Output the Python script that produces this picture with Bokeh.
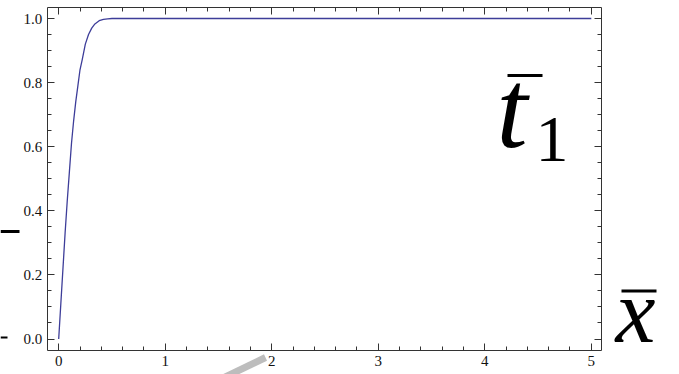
from bokeh.plotting import figure
from bokeh.models import (Range1d, FixedTicker, LinearAxis, Label, Arrow,
                          PrintfTickFormatter, ColumnDataSource)
from bokeh.embed import file_html
from bokeh.resources import INLINE

# Curve samples: scaled position x̄ and the normalised response t̄1
x_vals = [0.0, 0.02, 0.04, 0.06, 0.08, 0.10, 0.12, 0.14, 0.16, 0.18,
          0.20, 0.22, 0.25, 0.28, 0.31, 0.34, 0.38, 0.42, 0.46, 0.50,
          0.60, 1.0, 2.0, 3.0, 4.0, 5.0]
y_vals = [0.0, 0.11, 0.22, 0.33, 0.43, 0.52, 0.61, 0.68, 0.74, 0.79,
          0.84, 0.87, 0.92, 0.95, 0.97, 0.983, 0.993, 0.997, 0.999, 1.0,
          1.0, 1.0, 1.0, 1.0, 1.0, 1.0]

x_major = [0, 1, 2, 3, 4, 5]
x_minor = [i * 0.2 for i in range(0, 26)]
y_major = [0.0, 0.2, 0.4, 0.6, 0.8, 1.0]
y_minor = [i * 0.05 for i in range(0, 21)]

W, H = 679, 374
# pixel scale of the canvas: origin position and pixels per data unit
XS, X_ORIG = 106.52, 58.2
YS, Y_ORIG = 320.5, 338.5


def dx(px):
    return (px - X_ORIG) / XS


def dy(py):
    return (Y_ORIG - py) / YS


# the drawing frame spans the whole canvas; the boxed panel sits inside it
p = figure(width=W, height=H, output_backend="svg", toolbar_location=None,
           title=None, x_range=Range1d(dx(0), dx(W)),
           y_range=Range1d(dy(H), dy(0)),
           min_border_left=0, min_border_right=0, min_border_top=0,
           min_border_bottom=0, x_axis_location=None, y_axis_location=None)
p.xgrid.visible = False
p.ygrid.visible = False
p.outline_line_color = None
p.background_fill_color = "white"
p.border_fill_color = "white"

BOX_L, BOX_R = dx(46.7), dx(601.0)
BOX_T, BOX_B = dy(7.3), dy(350.0)

FRAME = "#333333"
FONT = "Liberation Serif"


def style_axis(ax, ticks, labels=True):
    ax.axis_line_color = FRAME
    ax.axis_line_width = 1
    ax.major_tick_line_color = FRAME
    ax.minor_tick_line_color = FRAME
    ax.major_tick_in = 7
    ax.major_tick_out = 0
    ax.minor_tick_in = 4
    ax.minor_tick_out = 0
    ax.major_label_text_font = FONT
    ax.major_label_text_font_size = "15px"
    ax.major_label_text_color = "#111111"
    ax.major_label_standoff = 5
    if not labels:
        ax.major_label_overrides = {t: "" for t in ticks}


xt = FixedTicker(ticks=x_major, minor_ticks=x_minor)
yt = FixedTicker(ticks=y_major, minor_ticks=y_minor)

bottom = LinearAxis(ticker=xt, fixed_location=BOX_B, bounds=(BOX_L, BOX_R))
style_axis(bottom, x_major)
p.add_layout(bottom, "below")
top = LinearAxis(ticker=xt, fixed_location=BOX_T, bounds=(BOX_L, BOX_R))
style_axis(top, x_major, labels=False)
p.add_layout(top, "above")
left = LinearAxis(ticker=yt, formatter=PrintfTickFormatter(format="%.1f"),
                  fixed_location=BOX_L, bounds=(BOX_B, BOX_T))
style_axis(left, y_major)
p.add_layout(left, "left")
right = LinearAxis(ticker=yt, fixed_location=BOX_R, bounds=(BOX_B, BOX_T))
style_axis(right, y_major, labels=False)
p.add_layout(right, "right")

src = ColumnDataSource(dict(x=x_vals, y=y_vals))
p.line("x", "y", source=src, line_color="#3d3d99", line_width=1.3)


def bar(x_a, y_a, x_b, y_b, width, color="black"):
    p.add_layout(Arrow(end=None, x_start=dx(x_a), y_start=dy(y_a),
                       x_end=dx(x_b), y_end=dy(y_b), line_width=width,
                       line_color=color, line_cap="butt"))


def label(px, py, text, size, italic=True):
    p.add_layout(Label(x=dx(px), y=dy(py), text=text, text_font=FONT,
                       text_font_style="italic" if italic else "normal",
                       text_font_size=size, text_color="black",
                       text_baseline="alphabetic", text_align="left"))


# t̄1 label inside the box
label(496, 108, "t", "112px")
label(535, 139, "1", "66px", italic=False)
bar(507, 75, 542, 75, 3)

# x̄ label beside the box
label(615, 311, "x", "90px")
bar(621, 290.5, 656, 290.5, 3)

# stray strokes at the edges
bar(0, 231, 19, 231, 3)
bar(0, 337, 7, 337, 2)
bar(265, 357, 205, 386, 7, "#bdbdbd")

open("out.html", "w").write(file_html(p, INLINE))
